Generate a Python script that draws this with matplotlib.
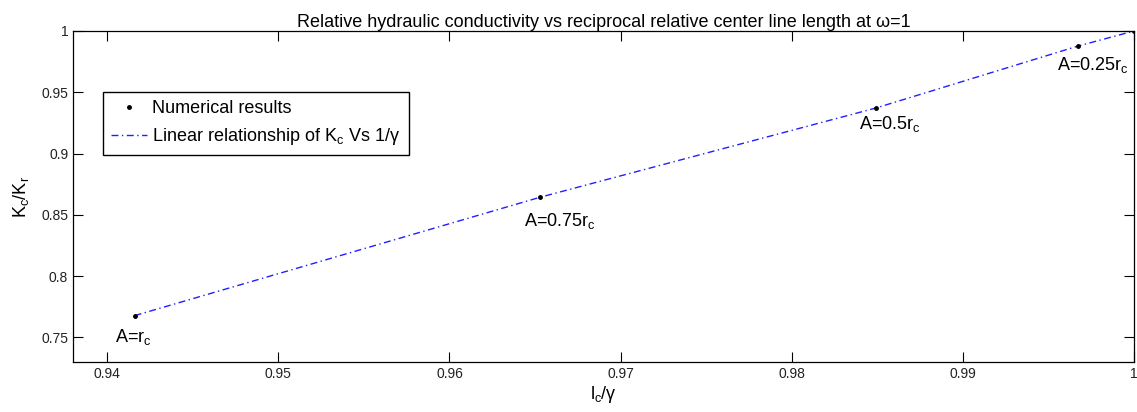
import numpy as np
import matplotlib
matplotlib.use("Agg")
import matplotlib.pyplot as plt

plt.rcParams["font.family"] = ["Liberation Sans", "DejaVu Sans"]
plt.rcParams["mathtext.fontset"] = "custom"
plt.rcParams["mathtext.rm"] = "Liberation Sans"
plt.rcParams["mathtext.it"] = "Liberation Sans"

# ── Data ─────────────────────────────────────────────────────────────────────
lc_over_gamma = [0.9416, 0.9653, 0.9849, 0.9967, 1.0]
kc_over_kr    = [0.7678, 0.8644, 0.9371, 0.9876, 1.0]
point_labels  = [r"A=r$_\mathregular{c}$", r"A=0.75r$_\mathregular{c}$",
                 r"A=0.5r$_\mathregular{c}$", r"A=0.25r$_\mathregular{c}$", None]

x_ticks = [0.94, 0.95, 0.96, 0.97, 0.98, 0.99, 1.0]
x_tick_labels = ["0.94", "0.95", "0.96", "0.97", "0.98", "0.99", "1"]
y_ticks = [0.75, 0.8, 0.85, 0.9, 0.95, 1.0]
y_tick_labels = ["0.75", "0.8", "0.85", "0.9", "0.95", "1"]

# label offsets from each point (points)
label_offsets = [(-14, -8), (-12, -10), (-12, -4), (-15, -6)]

# ── Plot ─────────────────────────────────────────────────────────────────────
fig, ax = plt.subplots(figsize=(11.37, 4.12), dpi=100, facecolor="white")
fig.subplots_adjust(left=0.0642, right=0.9974, top=0.9248, bottom=0.1214)

ax.plot(lc_over_gamma, kc_over_kr, linestyle="none", marker=".",
        color="black", markersize=5, label="Numerical results", zorder=3)
ax.plot(lc_over_gamma, kc_over_kr, color="#2020ff", linewidth=1.0,
        dashes=(5, 2.5, 1, 2.5),
        label=r"Linear relationship of K$_\mathregular{c}$ Vs 1/$\gamma$",
        zorder=2)

for x, y, lab, off in zip(lc_over_gamma, kc_over_kr, point_labels, label_offsets):
    if lab is None:
        continue
    ax.annotate(lab, xy=(x, y), xytext=off, textcoords="offset points",
                ha="left", va="top", fontsize=13)

ax.set_xlim(0.938, 1.0)
ax.set_ylim(0.73, 1.0)
ax.set_xticks(x_ticks)
ax.set_xticklabels(x_tick_labels)
ax.set_yticks(y_ticks)
ax.set_yticklabels(y_tick_labels)
ax.tick_params(direction="in", length=7, width=0.8, labelsize=10,
               top=True, right=True, labelcolor="#222222")
for s in ax.spines.values():
    s.set_linewidth(0.9)

ax.set_title("Relative hydraulic conductivity vs reciprocal relative center "
             "line length at \u03c9=1", fontsize=13, pad=3)
ax.set_xlabel(r"l$_\mathregular{c}$/$\gamma$", fontsize=13, labelpad=2)
ax.set_ylabel(r"K$_\mathregular{c}$/K$_\mathregular{r}$", fontsize=13, labelpad=7)

ax.legend(loc="upper left", bbox_to_anchor=(0.028, 0.816), fontsize=13,
          frameon=True, fancybox=False, edgecolor="black", framealpha=1,
          handlelength=2.0, handletextpad=0.3, borderpad=0.45,
          labelspacing=0.5, borderaxespad=0)

fig.savefig("out.png", dpi=100, facecolor="white")
plt.close(fig)
